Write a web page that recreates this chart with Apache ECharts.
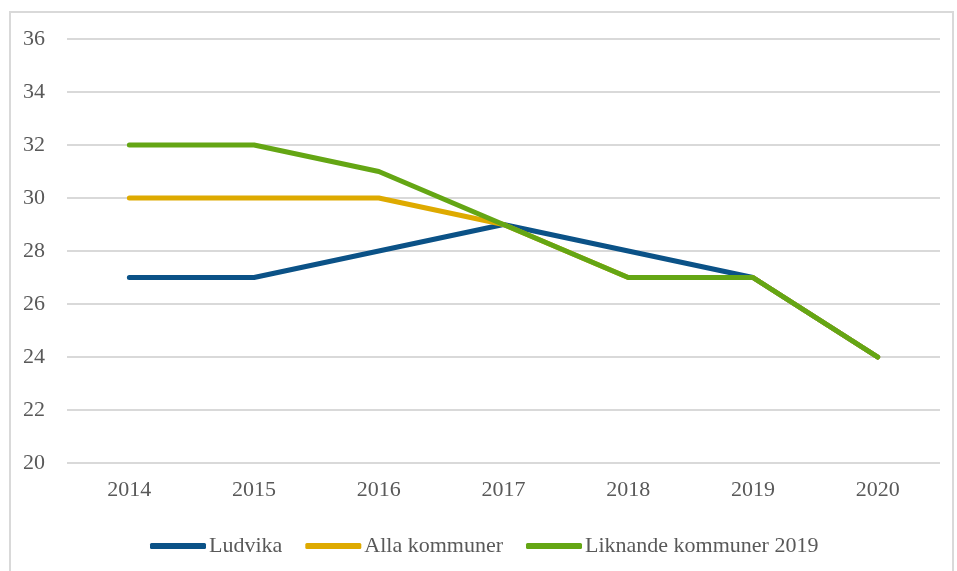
<!DOCTYPE html>
<html>
<head>
<meta charset="utf-8">
<style>
  html, body { margin: 0; padding: 0; background: #fff; }
  #chart { width: 957px; height: 571px; }
</style>
<script src="https://cdn.jsdelivr.net/npm/echarts@6/dist/echarts.min.js"></script>
</head>
<body>
<div id="chart"></div>
<script>
const years = ["2014", "2015", "2016", "2017", "2018", "2019", "2020"];
const ludvika = [27, 27, 28, 29, 28, 27, 24];
const allaKommuner = [30, 30, 30, 29, 27, 27, 24];
const liknandeKommuner = [32, 32, 31, 29, 27, 27, 24];

const chart = echarts.init(document.getElementById("chart"));
const font = "'Liberation Serif', 'DejaVu Serif', serif";

function lineSeries(name, data, color) {
  return {
    name,
    type: "line",
    data,
    symbol: "none",
    lineStyle: { width: 5, color, cap: "round" },
    itemStyle: { color },
  };
}

chart.setOption({
  animation: false,
  graphic: [
    {
      type: "rect",
      shape: { x: 10, y: 12, width: 943, height: 620 },
      style: { fill: "none", stroke: "#d9d9d9", lineWidth: 2 },
    },
  ],
  grid: { left: 67, right: 17, top: 39, bottom: 108 },
  legend: {
    top: 530,
    left: 145,
    itemWidth: 56,
    itemHeight: 6,
    itemGap: 23,
    icon: "roundRect",
    textStyle: { fontFamily: font, fontSize: 22, color: "#595959", padding: [0, 0, 0, -2] },
    data: ["Ludvika", "Alla kommuner", "Liknande kommuner 2019"],
  },
  xAxis: {
    type: "category",
    data: years,
    axisLine: { show: false },
    axisTick: { show: false },
    axisLabel: { fontFamily: font, fontSize: 22, color: "#595959", margin: 16 },
  },
  yAxis: {
    type: "value",
    min: 20,
    max: 36,
    interval: 2,
    axisLine: { show: false },
    axisTick: { show: false },
    axisLabel: { fontFamily: font, fontSize: 22, color: "#595959", margin: 22, padding: [8, 0, 0, 0] },
    splitLine: { lineStyle: { color: "#d9d9d9", width: 2 } },
  },
  series: [
    lineSeries("Ludvika", ludvika, "#0b5287"),
    lineSeries("Alla kommuner", allaKommuner, "#deaa00"),
    lineSeries("Liknande kommuner 2019", liknandeKommuner, "#64a614"),
  ],
});
</script>
</body>
</html>
